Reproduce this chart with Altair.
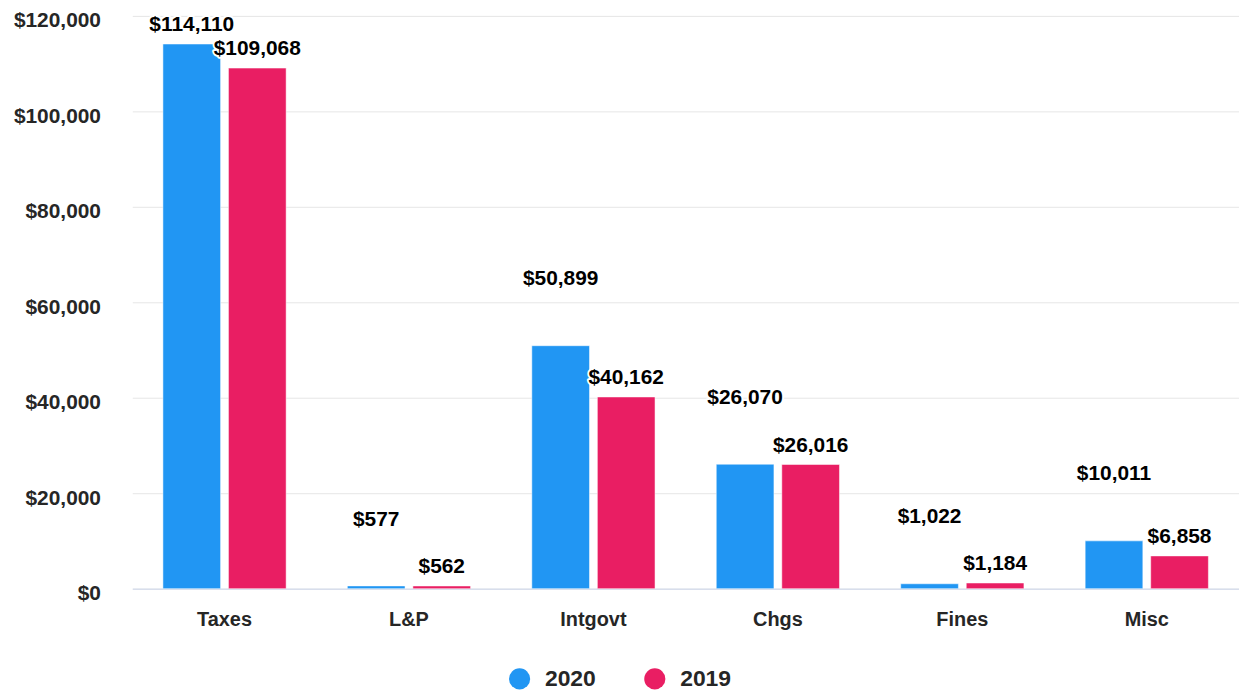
import altair as alt
import pandas as pd

categories = ["Taxes", "L&P", "Intgovt", "Chgs", "Fines", "Misc"]
series_names = ["2020", "2019"]
values_2020 = [114110, 577, 50899, 26070, 1022, 10011]
values_2019 = [109068, 562, 40162, 26016, 1184, 6858]
colors = ["#2196F3", "#E91E63"]

rows = []
for c, a, b in zip(categories, values_2020, values_2019):
    rows.append({"category": c, "series": "2020", "value": a})
    rows.append({"category": c, "series": "2019", "value": b})
df = pd.DataFrame(rows)

FONT = "Liberation Sans"
TXT = "#262626"

x = alt.X("category:N", sort=categories, title=None,
          scale=alt.Scale(paddingInner=0.332, paddingOuter=0.166),
          axis=alt.Axis(labelAngle=0, labelFontSize=20, labelFontWeight="bold",
                        labelColor=TXT, labelFont=FONT, ticks=False, tickSize=0,
                        labelPadding=21, domainColor="#ccd6eb", domainWidth=1,
                        grid=False))
xoff = alt.XOffset("series:N", sort=series_names,
                   scale=alt.Scale(paddingInner=0.12, paddingOuter=0))
color = alt.Color("series:N", sort=series_names,
                  scale=alt.Scale(domain=series_names, range=colors),
                  legend=alt.Legend(title=None, orient="none", direction="horizontal",
                                    legendX=378, legendY=655, symbolType="circle",
                                    symbolSize=452, symbolStrokeWidth=0,
                                    labelFontSize=23, labelFontWeight="bold",
                                    labelColor=TXT, labelFont=FONT, labelOffset=14,
                                    columnPadding=47, padding=0))

base = alt.Chart(df)

bars = base.mark_bar(stroke="white", strokeWidth=1, strokeOpacity=0.5).encode(
    x=x, xOffset=xoff,
    y=alt.Y("value:Q", title=None,
            scale=alt.Scale(domain=[0, 120000], nice=False),
            axis=alt.Axis(format="$,.0f", values=[0, 20000, 40000, 60000, 80000, 100000, 120000],
                          labelFontSize=21, labelFontWeight="bold", labelColor=TXT,
                          labelFont=FONT, ticks=False, tickSize=0, labelPadding=32,
                          labelOffset=5,
                          domain=False, gridColor="#e6e6e6", gridWidth=1)),
    color=color,
)

label_base = base.transform_calculate(
    label_y="datum.series == '2020' ? min(datum.value + 13900, 118000) : datum.value + 3950"
)

halo = label_base.mark_text(fontSize=21, fontWeight="bold", font=FONT, baseline="middle",
                            stroke="white", strokeWidth=4, strokeJoin="round",
                            fill="white").encode(
    x=alt.X("category:N", sort=categories), xOffset=xoff,
    y=alt.Y("label_y:Q"),
    text=alt.Text("value:Q", format="$,.0f"),
)
labels = label_base.mark_text(fontSize=21, fontWeight="bold", font=FONT, baseline="middle",
                              color="#000000").encode(
    x=alt.X("category:N", sort=categories), xOffset=xoff,
    y=alt.Y("label_y:Q"),
    text=alt.Text("value:Q", format="$,.0f"),
)

chart = alt.layer(bars, halo, labels).properties(
    width=1113, height=576,
    autosize=alt.AutoSizeParams(type="none"),
    padding={"left": 125, "top": 6, "right": 0, "bottom": 105},
).configure_view(stroke=None)

chart.save("out.html", embed_options={"renderer": "svg", "actions": False})
